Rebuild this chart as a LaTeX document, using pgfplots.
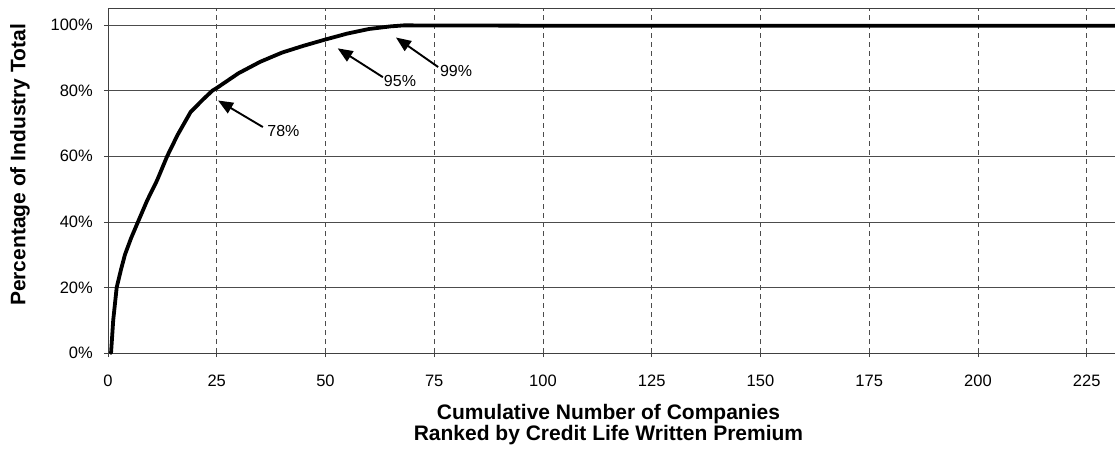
\documentclass[border=0pt]{standalone}
\usepackage{fontspec}
\setmainfont{Liberation Sans}
\usepackage{pgfplots}
\usepackage{pgfplotstable}
\pgfplotsset{compat=1.18}
\usetikzlibrary{arrows.meta}

\pgfplotstableread{
x y
0.7 0
1.2 10
2 20
3 25.5
3.9 30
5.3 35
6.9 40
9 46.5
11.3 52.7
13.6 60
16 66.5
19 73.5
22 77.5
24 80
25 80.8
30 85.3
35 88.8
40 91.6
45 93.7
50 95.6
55 97.4
60 98.8
65 99.6
68 99.9
100 99.8
231.5 99.8
}\curve

\begin{document}
\begin{tikzpicture}
\begin{axis}[
  scale only axis,
  width=1007pt, height=345pt,
  xmin=0, xmax=231.5, ymin=0, ymax=105.2,
  axis x line*=box, axis y line*=left,
  axis line style={black!75, line width=0.6pt},
  xtick={0,25,...,225},
  ytick={0,20,...,100},
  yticklabel={\pgfmathprintnumber{\tick}\%},
  tick align=outside,
  major tick length=4pt,
  tick style={black!75, line width=0.6pt},
  xtick pos=bottom, ytick pos=left,
  xmajorgrids, ymajorgrids,
  x grid style={black!70, line width=0.6pt, dash pattern=on 5pt off 4pt},
  y grid style={black!70, line width=0.6pt},
  /pgf/number format/assume math mode=true,
  tick label style={font=\fontsize{16.5}{16.5}\selectfont, inner sep=0pt},
  xticklabel style={yshift=-18pt},
  yticklabel style={xshift=-11pt},
  xlabel={Cumulative Number of Companies\\Ranked by Credit Life Written Premium},
  xlabel style={font=\fontsize{21}{21}\selectfont\bfseries, align=center, inner sep=0pt,
    at={(axis description cs:0.497,0)}, anchor=north, yshift=-51pt},
  ylabel={Percentage of Industry Total},
  ylabel style={font=\fontsize{21}{21}\selectfont\bfseries, inner sep=0pt,
    at={(axis description cs:-0.0875,0.545)}, anchor=center, rotate=0},
  clip=false,
]
\addplot[black, line width=3.8pt, line join=round, line cap=round] table[x=x, y=y] {\curve};

\draw[black, line width=1.9pt, -{Triangle[length=15pt, width=12pt]}] (axis cs:35.6,68.9) -- (axis cs:25.3,77.0);
\node[anchor=west, inner sep=0pt, font=\fontsize{16}{16}\selectfont] at (axis cs:36.6,67.7) {78\%};
\draw[black, line width=1.9pt, -{Triangle[length=15pt, width=12pt]}] (axis cs:63.2,84.1) -- (axis cs:52.8,92.9);
\node[anchor=west, inner sep=0pt, font=\fontsize{16}{16}\selectfont] at (axis cs:63.4,83.0) {95\%};
\draw[black, line width=1.9pt, -{Triangle[length=15pt, width=12pt]}] (axis cs:75.9,87.2) -- (axis cs:66.2,96.2);
\node[anchor=west, inner sep=0pt, font=\fontsize{16}{16}\selectfont] at (axis cs:76.3,86.1) {99\%};
\end{axis}
\pgfresetboundingbox
\path[use as bounding box] ([shift={(-108pt,-107pt)}]current axis.south west) rectangle ([shift={(0pt,8pt)}]current axis.north east);
\end{tikzpicture}
\end{document}
